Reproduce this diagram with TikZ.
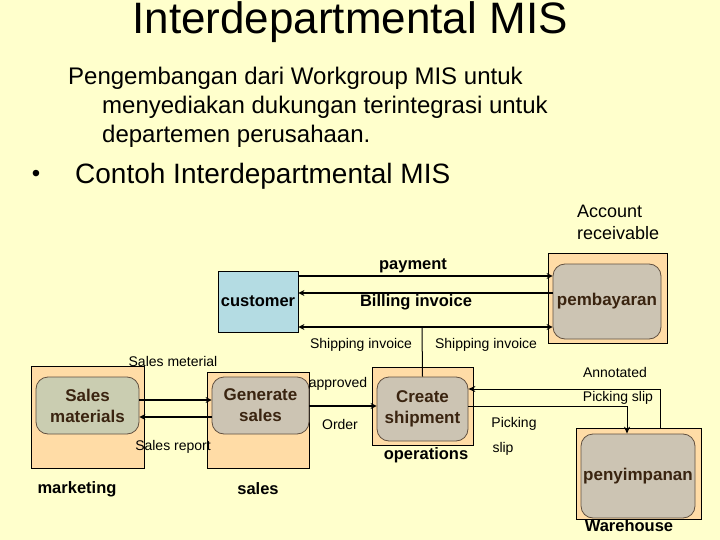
\documentclass[tikz,border=0pt]{standalone}
\usepackage{fontspec}
\setmainfont{Liberation Sans}
\usetikzlibrary{arrows.meta}
\definecolor{bg}{HTML}{FFFFCC}
\definecolor{peach}{HTML}{FFDCA6}
\definecolor{inner}{HTML}{CCC4B3}
\definecolor{innerg}{HTML}{CACDB1}
\definecolor{cust}{HTML}{B4DCE3}
\definecolor{brn}{HTML}{3A2410}
\tikzset{
  outerbox/.style={draw=black, line width=0.8pt, fill=peach, inner sep=0pt},
  innerbox/.style={draw=brn!80, line width=0.8pt, fill=inner, rounded corners=12pt, inner sep=0pt, text=brn, font=\fontsize{17}{21}\selectfont\bfseries, align=center},
  lbl/.style={inner sep=0pt, font=\fontsize{14}{16}\selectfont},
  bigl/.style={inner sep=0pt, font=\fontsize{16.5}{19}\selectfont\bfseries},
  thickarr/.style={line width=2pt, -{Stealth[length=6pt,width=6pt]}, draw=black},
  thinarr/.style={line width=1pt, -{Stealth[length=7pt,width=6pt]}, draw=black},
}
\begin{document}
\begin{tikzpicture}[x=1pt,y=-1pt]
\fill[bg] (0,0) rectangle (720,540);
\useasboundingbox (0,0) rectangle (720,540);
% title and text
\node[inner sep=0pt, font=\fontsize{44}{50}\selectfont] (title) at (350,22) {Interdepartmental MIS};
\node[inner sep=0pt, anchor=west, font=\fontsize{24}{28}\selectfont] (t1) at (68,78) {Pengembangan dari Workgroup MIS untuk};
\node[inner sep=0pt, anchor=west, font=\fontsize{24}{28}\selectfont] (t2) at (102,107) {menyediakan dukungan terintegrasi untuk};
\node[inner sep=0pt, anchor=west, font=\fontsize{24}{28}\selectfont] (t3) at (102,136) {departemen perusahaan.};
\node[inner sep=0pt, font=\fontsize{24}{28}\selectfont] (bul) at (36,176) {•};
\node[inner sep=0pt, anchor=west, font=\fontsize{28}{32}\selectfont] (t4) at (75,176) {Contoh Interdepartmental MIS};
\node[inner sep=0pt, anchor=west, align=left, font=\fontsize{18}{22}\selectfont] (acc) at (577,222) {Account\\receivable};

% customer
\node[draw=black, line width=0.8pt, fill=cust, minimum width=80pt, minimum height=61pt, inner sep=0pt, font=\fontsize{16.5}{19}\selectfont\bfseries] (customer) at (258,301.5) {customer};
% pembayaran
\node[outerbox, minimum width=119pt, minimum height=90pt] (pout) at (607.5,298) {};
\node[innerbox, minimum width=108pt, minimum height=75pt] (pin) at (607,301.5) {pembayaran};
% marketing
\node[outerbox, minimum width=113pt, minimum height=102pt] (mout) at (87.5,417) {};
\node[innerbox, fill=innerg, minimum width=103pt, minimum height=57pt] (min) at (87.5,405.5) {Sales\\materials};
% sales
\node[outerbox, minimum width=102pt, minimum height=96pt] (sout) at (258,420) {};
\node[innerbox, minimum width=97pt, minimum height=57pt] (sin) at (260.5,405.5) {Generate\\sales};
% operations
\node[outerbox, minimum width=101pt, minimum height=78pt] (oout) at (422.5,406) {};
\node[innerbox, minimum width=91pt, minimum height=64pt] (oin) at (422.5,409) {Create\\shipment};
% warehouse
\node[outerbox, minimum width=125pt, minimum height=91pt] (wout) at (638.5,473.5) {};
\node[innerbox, minimum width=114pt, minimum height=84pt] (win) at (638,476) {penyimpanan};

% labels
\node[bigl] (lmkt) at (77,489) {marketing};
\node[bigl] (lsales) at (258,489) {sales};
\node[bigl] (lops) at (426,455) {operations};
\node[bigl] (lwh) at (629,526) {Warehouse};

% payment arrows
\draw[thickarr] (customer.east |- 0,276) -- (pin.west |- 0,276);
\node[bigl] (lpay) at (413,266) {payment};
\draw[thickarr] (pin.west |- 0,293) -- (customer.east |- 0,293);
\node[bigl] (lbill) at (416,302) {Billing invoice};
\draw[thickarr, {Stealth[length=6pt,width=6pt]}-{Stealth[length=6pt,width=6pt]}] (customer.east |- 0,327) -- (pin.west |- 0,327);
\coordinate (sj) at (422,327);
\draw[line width=1pt] (sj) -- (oin.north);
\node[lbl] (lsh1) at (361,345) {Shipping invoice};
\node[lbl] (lsh2) at (486,345) {Shipping invoice};

% marketing <-> sales
\draw[thickarr] (min.east |- 0,400) -- (sin.west |- 0,400);
\node[lbl] (lsm) at (173,361) {Sales meterial};
\draw[thickarr] (sin.west |- 0,417) -- (min.east |- 0,417);
\node[lbl] (lsr) at (173,447) {Sales report};

% order
\draw[thickarr] (sin.east |- 0,406) -- (oin.west |- 0,406);
\node[lbl] (lap) at (338,384) {approved};
\node[lbl] (lor) at (340,424) {Order};

% annotated picking slip
\draw[thinarr] (wout.north -| 660,0) |- (oin.east |- 0,389);
\node[lbl] (lan) at (615,372) {Annotated};
\node[lbl] (lps) at (618,398) {Picking slip};
% picking slip
\draw[thinarr] (oin.east |- 0,406) -| (win.north -| 627,0);
\node[lbl] (lpk) at (514,424) {Picking};
\node[lbl] (lsl) at (503,449) {slip};
\end{tikzpicture}
\end{document}
